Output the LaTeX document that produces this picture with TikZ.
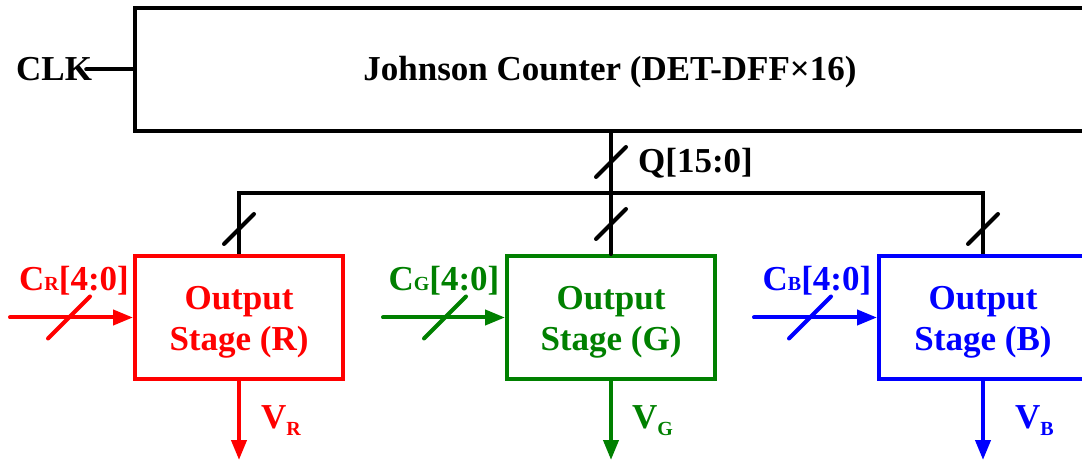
\documentclass[tikz,border=0pt]{standalone}
\usepackage{fontspec}
\setmainfont{Liberation Serif}
\usetikzlibrary{arrows.meta,positioning,calc}
\definecolor{outR}{HTML}{FF0000}
\definecolor{outG}{HTML}{008000}
\definecolor{outB}{HTML}{0000FF}
\newcommand{\smallsub}[2][0pt]{\raisebox{-#1}{\fontsize{20}{20}\selectfont #2}}
\tikzset{
  blockbox/.style={draw, line width=4pt, align=center, inner sep=0pt,
                   font=\fontsize{35}{41}\selectfont\bfseries},
  stagebox/.style={blockbox, minimum width=208pt, minimum height=123pt},
  lbl/.style={inner sep=0pt, font=\fontsize{35}{41}\selectfont\bfseries},
  wire/.style={line width=4pt, line cap=round},
  arr/.style={wire, -{Triangle[length=20pt, width=15pt]}},
  busslash/.pic={\draw[wire] (-#1,#1) -- (#1,-#1);}}

\begin{document}
\begin{tikzpicture}[x=1pt, y=-1pt]
  \useasboundingbox (0,0) rectangle (1082,462);
  \clip (0,0) rectangle (1082,462);
  \node[blockbox, minimum width=990pt, minimum height=123pt,
        text height=23pt, text depth=0pt] (jc) at (630,69.5)
    {\hspace*{-40pt}Johnson Counter (DET-DFF×16)};
  \node[lbl, anchor=west] (clk) at (16,69.5) {CLK};
  \draw[wire] ([xshift=-6pt]clk.east) -- (jc.west);

  \node[stagebox, draw=outR, text=outR] (sr) at (239,317.5)
    {\rule{0pt}{33pt}Output\\Stage (R)};
  \node[stagebox, draw=outG, text=outG] (sg) at (611,317.5)
    {\rule{0pt}{33pt}Output\\Stage (G)};
  \node[stagebox, draw=outB, text=outB] (sb) at (983,317.5)
    {\rule{0pt}{33pt}Output\\Stage (B)};

  % Q bus
  \coordinate (bus) at (611,193);
  \draw[wire] (jc.south -| sg.north) -- (sg.north);
  \draw[wire, line cap=butt] (sr.north) -- (sr.north |- bus) -- (sb.north |- bus) -- (sb.north);
  \pic at (611,162) {busslash=15};
  \pic at (239,229) {busslash=15};
  \pic at (611,224) {busslash=15};
  \pic at (983,229) {busslash=15};
  \node[lbl, anchor=base west] (q) at (638,173) {Q[15:0]};

  % code inputs
  \coordinate (cr) at (10,317.5);
  \coordinate (cg) at (383,317.5);
  \coordinate (cb) at (754,317.5);
  \draw[arr, outR] (cr) -- (sr.west);
  \draw[arr, outG] (cg) -- (sg.west);
  \draw[arr, outB] (cb) -- (sb.west);
  \pic[outR] at (69,317.5) {busslash=21};
  \pic[outG] at (445,317.5) {busslash=21};
  \pic[outB] at (810,317.5) {busslash=21};
  \node[lbl, text=outR, anchor=base] (crlab) at (74,291) {C\smallsub{R}[4:0]};
  \node[lbl, text=outG, anchor=base] (cglab) at (444,291) {C\smallsub{G}[4:0]};
  \node[lbl, text=outB, anchor=base] (cblab) at (817,291) {C\smallsub{B}[4:0]};

  % outputs
  \coordinate (vr) at (239,460);
  \coordinate (vg) at (611,460);
  \coordinate (vb) at (983,460);
  \draw[arr, outR] (sr.south) -- (vr);
  \draw[arr, outG] (sg.south) -- (vg);
  \draw[arr, outB] (sb.south) -- (vb);
  \node[lbl, text=outR, anchor=base west] (vrlab) at (261,428) {V\smallsub[8pt]{R}};
  \node[lbl, text=outG, anchor=base west] (vglab) at (632,428) {V\smallsub[8pt]{G}};
  \node[lbl, text=outB, anchor=base west] (vblab) at (1015,428) {V\smallsub[8pt]{B}};
\end{tikzpicture}
\end{document}
